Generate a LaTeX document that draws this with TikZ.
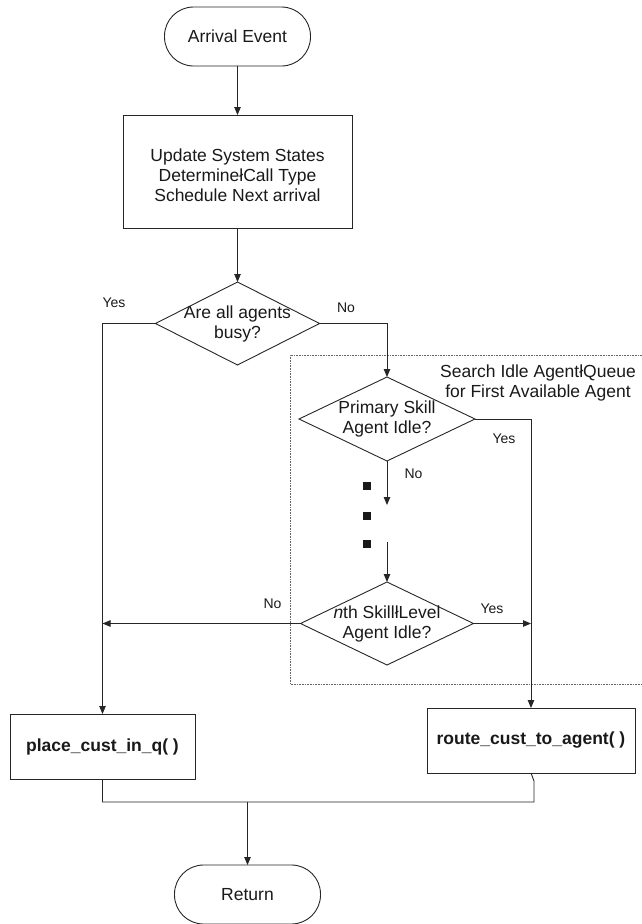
\documentclass[tikz,border=0pt]{standalone}
\usepackage{fontspec}
\setmainfont{Liberation Sans}
\usetikzlibrary{shapes.geometric,arrows.meta}
\begin{document}
\begin{tikzpicture}[x=1pt,y=-1pt,
  line/.style={draw=black!85, line width=0.9pt},
  arrowline/.style={line, -{Triangle[length=8pt,width=6.5pt]}},
  mainfont/.style={font=\fontsize{17.5}{20}\selectfont, text=black!90},
  term/.style={line, mainfont, rectangle, rounded corners=29pt, minimum width=146pt, minimum height=59pt, inner sep=0pt, outer sep=0pt},
  proc/.style={line, mainfont, rectangle, align=center, inner sep=0pt, outer sep=0pt},
  dec/.style={line, diamond, inner sep=0pt, outer sep=0pt},
  dtext/.style={mainfont, align=center, inner sep=0pt},
  lab/.style={font=\fontsize{14}{16}\selectfont, text=black!90, anchor=base, inner sep=0pt},
  sq/.style={fill=black!90, minimum size=8pt, inner sep=0pt, outer sep=0pt},
  dotbox/.style={draw=black!60, line width=0.8pt, dash pattern=on 0.8pt off 0.8pt}
]
\useasboundingbox (0,0) rectangle (642,924);

% dotted search region
\draw[dotbox] (642,355) -- (290,355) -- (290,684) -- (642,684);

% nodes
\node[term] (arr) at (237.5,36.5) {Arrival Event};
\node[proc, minimum width=229pt, minimum height=113pt] (upd) at (237.5,171.5) {};
\node[dtext] (updt) at (237.5,175.5)
  {Update System States\\Determine\l{}Call Type\\Schedule Next arrival};

\node[dec, minimum width=164pt, minimum height=83pt] (d1) at (237.5,323.5) {};
\node[dtext] (d1t) at (d1.center) {Are all agents\\busy?};

\node[dtext] (srch) at (538,382.5) {Search Idle Agent\l{}Queue\\for First Available Agent};

\node[dec, minimum width=176pt, minimum height=84pt] (d2) at (387,419) {};
\node[dtext] (d2t) at (d2.center) {Primary Skill\\Agent Idle?};

\node[sq] (s1) at (367,486) {};
\node[sq] (s2) at (367,516) {};
\node[sq] (s3) at (367,544) {};

\node[dec, minimum width=173pt, minimum height=83pt] (d3) at (387,623.5) {};
\node[dtext] (d3t) at (d3.center) {\textit{n}th Skill\l{}Level\\Agent Idle?};

\node[proc, minimum width=185pt, minimum height=65pt, font=\bfseries\fontsize{17.5}{20}\selectfont] (place) at (102.5,746.5) {place\_cust\_in\_q( )};
\node[proc, minimum width=208pt, minimum height=65pt, font=\bfseries\fontsize{17.5}{20}\selectfont] (route) at (531,740.5) {route\_cust\_to\_agent( )};

\node[term] (ret) at (247.5,894.5) {Return};

% labels
\node[lab] (ly1) at (114,307) {Yes};
\node[lab] (ln1) at (346,312) {No};
\node[lab] (ly2) at (504,443) {Yes};
\node[lab] (ln2) at (413.5,478) {No};
\node[lab] (ly3) at (492,613) {Yes};
\node[lab] (ln3) at (272.5,608) {No};

% connectors
\draw[arrowline] (arr) -- (upd);
\draw[arrowline] (upd) -- (d1);
\draw[arrowline] (d1.west) -| (place.north);
\draw[arrowline] (d1.east) -| (d2.north);
\draw[arrowline] (d2.east) -| (route.north);
\coordinate (c1) at (387,505);
\draw[arrowline] (d2.south) -- (c1);
\coordinate (c2) at (387,542);
\draw[arrowline] (c2) -- (d3.north);
\coordinate (y3) at (531,623.5);
\draw[arrowline] (d3.east) -- (y3);
\coordinate (n3) at (102.5,623.5);
\draw[arrowline] (d3.west) -- (n3);
\coordinate (mR) at (534,802);
\coordinate (mK) at (534,781);
\draw[line] (place.south) |- (mR) -- (mK) -- (route.south);
\coordinate (mC) at (247.5,802);
\draw[arrowline] (mC) -- (ret.north);
\end{tikzpicture}
\end{document}
